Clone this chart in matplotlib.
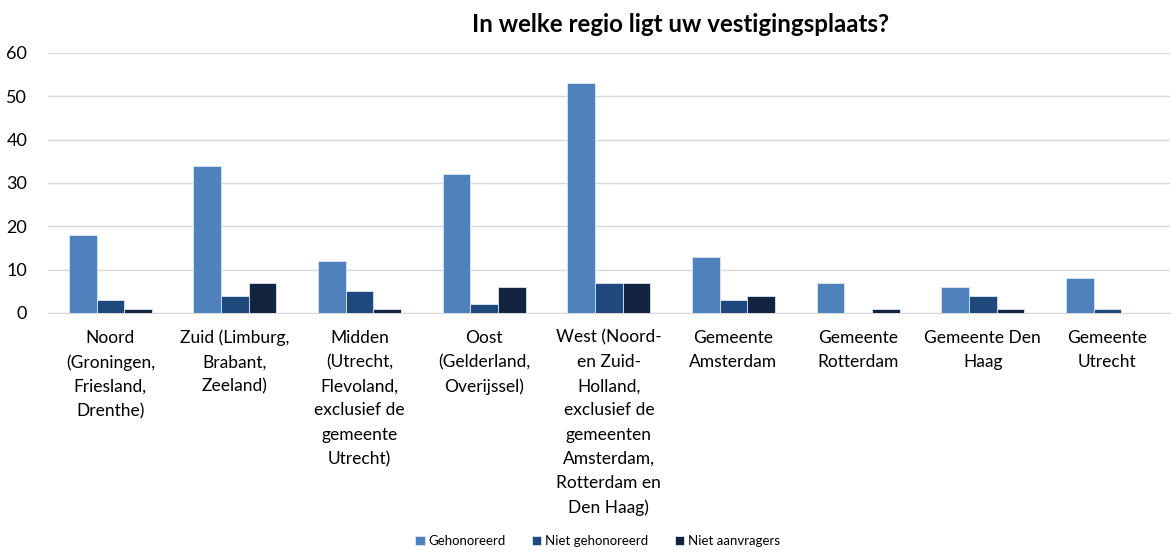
import numpy as np
import matplotlib
matplotlib.use("Agg")
import matplotlib.pyplot as plt

plt.rcParams["font.family"] = ["Lato", "DejaVu Sans"]

# --------------------------------------------------------------
# Data
# --------------------------------------------------------------
regions = [
    "Noord\n(Groningen,\nFriesland,\nDrenthe)",
    "Zuid (Limburg,\nBrabant,\nZeeland)",
    "Midden\n(Utrecht,\nFlevoland,\nexclusief de\ngemeente\nUtrecht)",
    "Oost\n(Gelderland,\nOverijssel)",
    "West (Noord-\nen Zuid-\nHolland,\nexclusief de\ngemeenten\nAmsterdam,\nRotterdam en\nDen Haag)",
    "Gemeente\nAmsterdam",
    "Gemeente\nRotterdam",
    "Gemeente Den\nHaag",
    "Gemeente\nUtrecht",
]
gehonoreerd = [18, 34, 12, 32, 53, 13, 7, 6, 8]
niet_gehonoreerd = [3, 4, 5, 2, 7, 3, 0, 4, 1]
niet_aanvragers = [1, 7, 1, 6, 7, 4, 1, 1, 0]

series = [
    ("Gehonoreerd", gehonoreerd, "#4F81BD"),
    ("Niet gehonoreerd", niet_gehonoreerd, "#1F497D"),
    ("Niet aanvragers", niet_aanvragers, "#12243F"),
]

# --------------------------------------------------------------
# Plot
# --------------------------------------------------------------
fig = plt.figure(figsize=(11.72, 5.52), dpi=100)
ax = fig.add_axes([0.041, 0.433, 0.957, 0.471])

x = np.arange(len(regions))
width = 0.222
for i, (name, vals, color) in enumerate(series):
    ax.bar(x + (i - 1) * width, vals, width, color=color, label=name,
           edgecolor="#dce6f2", linewidth=0.6, zorder=3)

ax.set_xlim(-0.5, len(regions) - 0.5)
ax.set_ylim(0, 60)
ax.set_yticks(range(0, 61, 10))
ax.yaxis.grid(True, color="#d9d9d9", linewidth=1, zorder=0)
for side in ["top", "right", "left"]:
    ax.spines[side].set_visible(False)
ax.spines["bottom"].set_color("#d9d9d9")
ax.tick_params(axis="both", length=0, labelsize=12.5, colors="#000000")
ax.tick_params(axis="y", labelsize=13, pad=15)
ax.set_xticks(x)
ax.set_xticklabels(regions, linespacing=1.63, va="top")
ax.tick_params(axis="x", pad=12)

fig.text(0.581, 0.955, "In welke regio ligt uw vestigingsplaats?",
         ha="center", va="center", fontsize=17.4, fontweight="bold")

fig.legend(loc="lower center", bbox_to_anchor=(0.51, -0.012), ncol=3,
           frameon=False, fontsize=9.5, handlelength=0.7, handleheight=0.7,
           handletextpad=0.3, columnspacing=2.0)

fig.savefig("out.png", dpi=100)
